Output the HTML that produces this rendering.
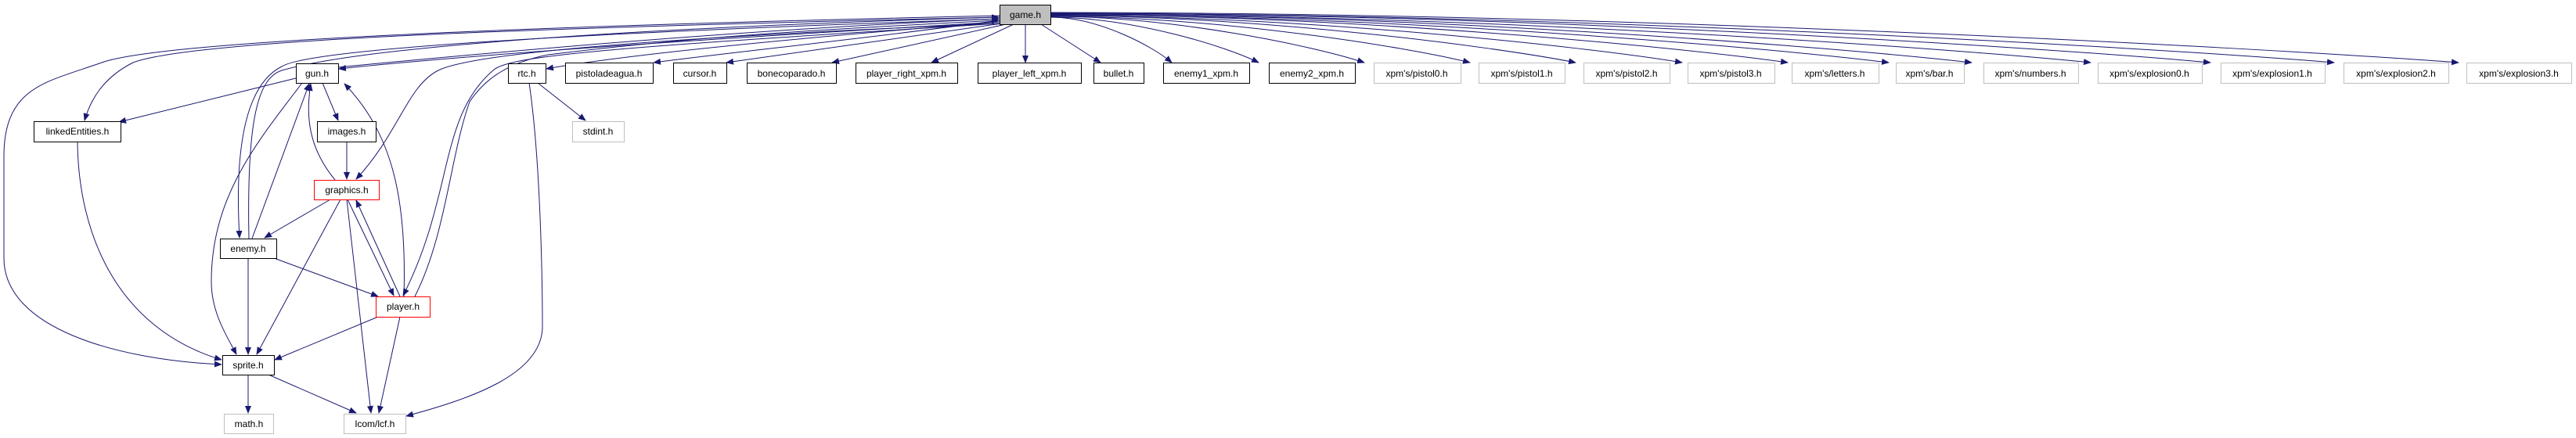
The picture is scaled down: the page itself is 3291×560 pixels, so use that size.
<!DOCTYPE html>
<html><head><meta charset="utf-8"><style>html,body{margin:0;padding:0;background:#fff}svg{display:block}</style></head><body>
<svg width="3291" height="560" xmlns="http://www.w3.org/2000/svg" font-family="Liberation Sans, sans-serif" font-size="12">
<defs><marker id="a" markerWidth="10" markerHeight="8" refX="9" refY="4" orient="auto" markerUnits="userSpaceOnUse"><path d="M0,0 L10,4 L0,8 Z" fill="#191970"/></marker></defs>
<g fill="none" stroke="#191970" stroke-width="1" marker-end="url(#a)">
<path d="M1277,28 C900,50 600,70 433,88"/>
<path d="M1277,22 C700,35 250,50 170,80 C130,100 115,130 108,154"/>
<path d="M1277,20 C600,35 200,55 130,80 C60,105 5,110 5,200 L5,330 C5,420 150,460 283,466"/>
<path d="M1277,24 C800,40 400,60 360,85 C310,110 300,200 306,304"/>
<path d="M1277,30 C800,50 600,70 560,90 C520,110 510,170 455,229"/>
<path d="M1277,30 C800,60 650,70 630,90 C560,150 580,250 515,378"/>
<path d="M1277,28 C1000,50 800,70 698,88"/>
<path d="M432,86 C700,60 1000,35 1276,24"/>
<path d="M318,305 C315,150 330,100 360,90 C500,50 1000,30 1276,22"/>
<path d="M530,379 C570,300 575,200 600,130 C620,100 650,80 700,70 C900,45 1100,35 1276,26"/>
<path d="M378,100 L152,156"/>
<path d="M412,106 L432,154"/>
<path d="M386,106 C330,180 270,250 270,360 C270,400 290,430 302,453"/>
<path d="M322,305 L395,107"/>
<path d="M428,230 C395,190 390,150 397,107"/>
<path d="M516,379 C520,250 500,170 440,107"/>
<path d="M443,181 L443,229"/>
<path d="M422,255 L338,304"/>
<path d="M435,255 L328,453"/>
<path d="M444,255 L503,378"/>
<path d="M511,379 L455,256"/>
<path d="M443,255 L474,528"/>
<path d="M317,330 L317,453"/>
<path d="M350,330 L483,379"/>
<path d="M483,405 L351,460"/>
<path d="M511,405 L484,528"/>
<path d="M99,181 C100,300 150,420 283,460"/>
<path d="M317,479 L317,528"/>
<path d="M343,479 L455,528"/>
<path d="M687,106 L748,154"/>
<path d="M676,106 C690,200 693,350 693,420 C690,480 600,510 519,532"/>
<path d="M1278,26 C1100,50 950,65 835,80"/>
<path d="M1280,30 L928,80"/>
<path d="M1285,31 L1063,80"/>
<path d="M1295,31 L1190,80"/>
<path d="M1310,31 L1310,80"/>
<path d="M1330,31 L1406,80"/>
<path d="M1342,22 C1404,22 1474,60 1497,80"/>
<path d="M1342,22 C1448,22 1568,60 1608,80"/>
<path d="M1342,21 C1502,21 1683,60 1743,80"/>
<path d="M1342,21 C1556,21 1798,60 1878,80"/>
<path d="M1342,20 C1610,20 1912,60 2013,80"/>
<path d="M1342,20 C1665,20 2028,60 2149,80"/>
<path d="M1342,19 C1719,19 2143,60 2284,80"/>
<path d="M1342,19 C1770,19 2252,60 2413,80"/>
<path d="M1342,18 C1813,18 2342,60 2519,80"/>
<path d="M1342,18 C1874,18 2472,60 2671,80"/>
<path d="M1342,17 C1935,17 2602,60 2824,80"/>
<path d="M1342,17 C1998,17 2736,60 2982,80"/>
<path d="M1342,16 C2062,16 2871,60 3141,80"/>
</g>
<g stroke-width="1">
<rect x="1277.5" y="6.5" width="65" height="25" fill="#bfbfbf" stroke="#000"/>
<g fill="#fff" stroke="#000">
<rect x="378.5" y="81.5" width="54" height="25"/>
<rect x="43.5" y="155.5" width="111" height="26"/>
<rect x="405.5" y="155.5" width="75" height="26"/>
<rect x="281.5" y="305.5" width="72" height="25"/>
<rect x="284.5" y="454.5" width="66" height="25"/>
<rect x="649.5" y="81.5" width="48" height="25"/>
<rect x="722.5" y="80.5" width="112" height="26"/>
<rect x="860.5" y="80.5" width="68" height="26"/>
<rect x="954.5" y="80.5" width="114" height="26"/>
<rect x="1093.5" y="80.5" width="130" height="26"/>
<rect x="1249.5" y="80.5" width="132" height="26"/>
<rect x="1397.5" y="80.5" width="64" height="26"/>
<rect x="1486.5" y="80.5" width="110" height="26"/>
<rect x="1621.5" y="80.5" width="110" height="26"/>
</g>
<g fill="#fff" stroke="#f00">
<rect x="401.5" y="230.5" width="83" height="25"/>
<rect x="480.5" y="379.5" width="69" height="26"/>
</g>
<g fill="#fff" stroke="#bfbfbf">
<rect x="286.5" y="529.5" width="63" height="25"/>
<rect x="439.5" y="529.5" width="79" height="25"/>
<rect x="731.5" y="155.5" width="66" height="26"/>
<rect x="1755.5" y="80.5" width="111" height="26"/>
<rect x="1889.5" y="80.5" width="110" height="26"/>
<rect x="2023.5" y="80.5" width="110" height="26"/>
<rect x="2156.5" y="80.5" width="111" height="26"/>
<rect x="2289.5" y="80.5" width="111" height="26"/>
<rect x="2422.5" y="80.5" width="87" height="26"/>
<rect x="2534.5" y="80.5" width="121" height="26"/>
<rect x="2680.5" y="80.5" width="133" height="26"/>
<rect x="2837.5" y="80.5" width="133" height="26"/>
<rect x="2994.5" y="80.5" width="134" height="26"/>
<rect x="3151.5" y="80.5" width="134" height="26"/>
</g>
</g>
<g text-anchor="middle" fill="#000">
<text x="1310" y="23">game.h</text>
<text x="405" y="98">gun.h</text>
<text x="99" y="172">linkedEntities.h</text>
<text x="443" y="172">images.h</text>
<text x="443" y="247">graphics.h</text>
<text x="317" y="322">enemy.h</text>
<text x="515" y="396">player.h</text>
<text x="317" y="471">sprite.h</text>
<text x="318" y="546">math.h</text>
<text x="479" y="546">lcom/lcf.h</text>
<text x="673" y="98">rtc.h</text>
<text x="764" y="172">stdint.h</text>
<text x="778" y="98">pistoladeagua.h</text>
<text x="894" y="98">cursor.h</text>
<text x="1011" y="98">bonecoparado.h</text>
<text x="1158" y="98">player_right_xpm.h</text>
<text x="1315" y="98">player_left_xpm.h</text>
<text x="1429" y="98">bullet.h</text>
<text x="1541" y="98">enemy1_xpm.h</text>
<text x="1676" y="98">enemy2_xpm.h</text>
<text x="1810" y="98">xpm's/pistol0.h</text>
<text x="1944" y="98">xpm's/pistol1.h</text>
<text x="2078" y="98">xpm's/pistol2.h</text>
<text x="2211" y="98">xpm's/pistol3.h</text>
<text x="2344" y="98">xpm's/letters.h</text>
<text x="2465" y="98">xpm's/bar.h</text>
<text x="2594" y="98">xpm's/numbers.h</text>
<text x="2746" y="98">xpm's/explosion0.h</text>
<text x="2903" y="98">xpm's/explosion1.h</text>
<text x="3061" y="98">xpm's/explosion2.h</text>
<text x="3218" y="98">xpm's/explosion3.h</text>
</g>
</svg>
</body></html>
